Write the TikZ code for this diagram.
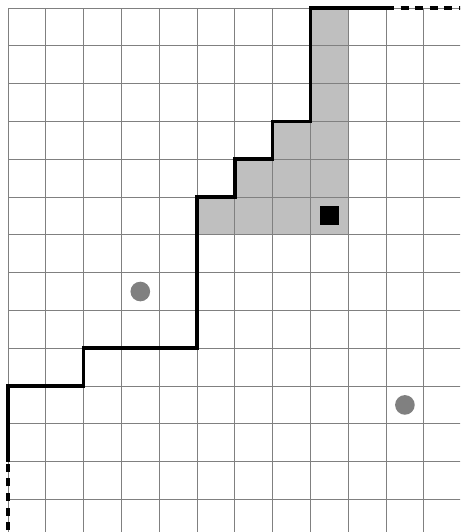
\documentclass[tikz,border=0pt]{standalone}
\usepackage{tikz}
\usetikzlibrary{positioning}

\tikzset{
  cellline/.style={gray, line width=0.7pt},
  route/.style={black, line width=2.8pt, line join=miter},
  routeopen/.style={route, dash pattern=on 6pt off 5pt},
  reached/.style={fill=gray!50, draw=none},
  target/.style={fill=black, draw=none, minimum size=0.5cm, inner sep=0pt},
  probe/.style={circle, fill=gray, draw=none, minimum size=0.52cm, inner sep=0pt}
}

\begin{document}
\begin{tikzpicture}[x=1cm,y=-1cm]
  \useasboundingbox (-0.212,-0.212) rectangle (11.958,13.862);
  \begin{scope}
    \clip (-0.212,-0.212) rectangle (11.958,13.862);

    % explored region
    \fill[reached] (5,6) -- (5,5) -- (6,5) -- (6,4) -- (7,4) -- (7,3)
      -- (8,3) -- (8,0) -- (9,0) -- (9,6) -- cycle;

    \foreach \x in {0,...,11} {
      \draw[cellline] (\x,0) -- (\x,14);
    }
    \foreach \y in {0,...,13} {
      \draw[cellline] (0,\y) -- (12,\y);
    }

    % boundary walk
    \coordinate (startopen) at (0,14.2);
    \coordinate (start) at (0,12);
    \coordinate (stop) at (10,0);
    \coordinate (stopopen) at (12.2,0);
    \draw[routeopen] (startopen) -- (start);
    \draw[route] (start) -- (0,10) -- (2,10) -- (2,9) -- (5,9) -- (5,5)
      -- (6,5) -- (6,4) -- (7,4) -- (7,3) -- (8,3) -- (8,0) -- (stop);
    \draw[routeopen] (stop) -- (stopopen);
  \end{scope}

  \node[target] (goal) at (8.5,5.5) {};
  \node[probe] (probeA) at (3.5,7.5) {};
  \node[probe] (probeB) at (10.5,10.5) {};
\end{tikzpicture}
\end{document}
